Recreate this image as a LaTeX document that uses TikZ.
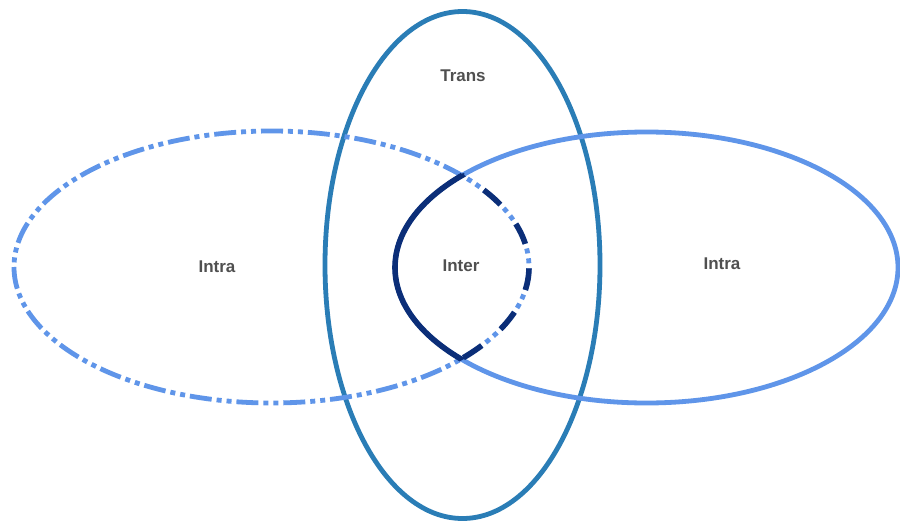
\documentclass[tikz,border=0pt]{standalone}
\usepackage{fontspec}
\setmainfont{Liberation Sans}
\definecolor{lightblue}{HTML}{5F95E9}
\definecolor{transblue}{HTML}{2A7DB6}
\definecolor{navyblue}{HTML}{0B2E78}
\definecolor{labelgray}{HTML}{505050}
\tikzset{
  setlabel/.style={font=\bfseries\fontsize{17}{19}\selectfont, text=labelgray},
  solidring/.style={draw=lightblue, line width=4.8pt},
  dashring/.style={draw=lightblue, line width=4.8pt,
    dash pattern=on 22pt off 5pt on 5pt off 5pt on 5pt off 4.9pt},
  transring/.style={draw=transblue, line width=4.8pt},
  lensedge/.style={draw=navyblue, line width=5.6pt},
}
\begin{document}
\begin{tikzpicture}[x=1pt,y=-1pt]
\useasboundingbox (0,0) rectangle (900,522);
\fill[white] (0,0) rectangle (900,522);

% vertical "Trans" set
\draw[transring] (462.5,265) ellipse [x radius=137.5pt, y radius=253.5pt];

% left "Intra" set (dash-dot-dot), drawn from its leftmost point
\draw[dashring] (14,267) arc[start angle=180, end angle=540, x radius=257.5pt, y radius=136pt];

% right "Intra" set
\draw[solidring] (646.5,267.5) ellipse [x radius=251.5pt, y radius=135.5pt];

% edge of the "Inter" lens: right ellipse inside the left one
\begin{scope}
  \clip (271.5,267) ellipse [x radius=259pt, y radius=137.5pt];
  \draw[lensedge] (646.5,267.5) ellipse [x radius=251.5pt, y radius=135.5pt];
\end{scope}
% edge of the "Inter" lens: left ellipse inside the right one, dashes only
\begin{scope}
  \clip (646.5,267.5) ellipse [x radius=253pt, y radius=137pt];
  \draw[lensedge, dash pattern=on 22pt off 24.9pt]
    (14,267) arc[start angle=180, end angle=540, x radius=257.5pt, y radius=136pt];
\end{scope}

\node[setlabel] (trans) at (463,76) {Trans};
\node[setlabel] (intraL) at (217,267) {Intra};
\node[setlabel] (inter) at (461,266) {Inter};
\node[setlabel] (intraR) at (722,264) {Intra};
\end{tikzpicture}
\end{document}
